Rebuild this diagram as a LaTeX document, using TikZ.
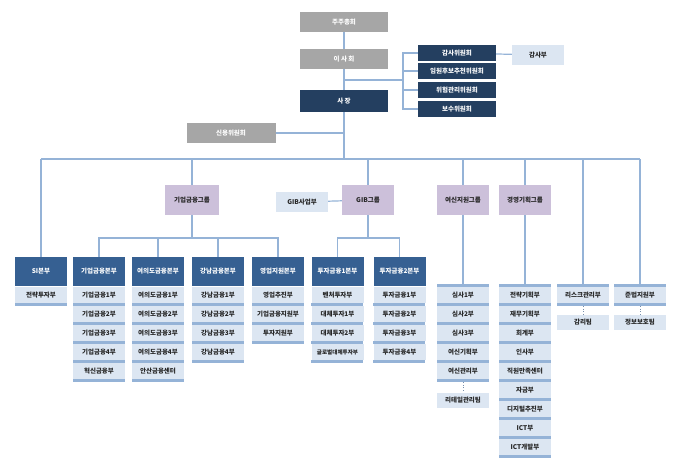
\documentclass[tikz,border=0pt]{standalone}
\usepackage{fontspec}
\usetikzlibrary{calc}
\setmainfont{Noto Sans CJK KR}
\definecolor{gr}{HTML}{A6A6A6}
\definecolor{navy}{HTML}{243F60}
\definecolor{hb}{HTML}{366092}
\definecolor{lb}{HTML}{DCE6F2}
\definecolor{st}{HTML}{95B3D7}
\definecolor{lav}{HTML}{CCC0DA}
\definecolor{tx}{HTML}{262626}
\begin{document}
\begin{tikzpicture}[x=1pt,y=-1pt,
  base/.style={inner sep=0pt,font=\fontsize{6.5}{7}\selectfont\bfseries,minimum width=52pt,minimum height=16pt},
  grey/.style={base,fill=gr,text=white,minimum width=88pt,minimum height=20pt},
  dk/.style={base,fill=navy,text=white},
  hd/.style={base,fill=hb,text=white,minimum height=29pt},
  grp/.style={base,fill=lav,text=tx,minimum height=30pt},
  lt/.style={base,fill=lb,text=tx},
  sub/.style={base,fill=lb,text=tx},
  stripe/.style={fill=st},
  ln/.style={draw=st,line width=1.2pt},
  dt/.style={draw=st!80!black,line width=0.6pt,dotted}]
\useasboundingbox (0,0) rectangle (696,471);
% top
\node[grey] (ju) at (344,22) {주주총회};
\node[grey] (isa) at (344,59) {이 사 회};
\node[dk,minimum width=88pt,minimum height=22pt] (sj) at (344,101) {사 장};
\node[dk,minimum width=78pt] (c1) at (457,53) {감사위원회};
\node[dk,minimum width=78pt] (c2) at (457,71) {임원후보추천위원회};
\node[dk,minimum width=78pt] (c3) at (457,90) {위험관리위원회};
\node[dk,minimum width=78pt] (c4) at (457,109) {보수위원회};
\node[lt,minimum height=20pt] (gb) at (538,55) {감사부};
\node[grey,minimum width=89pt] (sy) at (231,133) {신용위원회};
\coordinate (br) at (403,80);
\draw[ln] (ju) -- (isa); \draw[ln] (isa) -- (sj);
\draw[ln] (sj.north |- br) -- (br);
\draw[ln] (c1.west) -| (br) |- (c4.west);
\draw[ln] (br |- c2) -- (c2.west); \draw[ln] (br |- c3) -- (c3.west);
\draw[ln] (c1) -- (gb);
\coordinate (m) at (344,159);
\draw[ln] (sj) -- (m);
\draw[ln] (sy.east) -- (sy.east -| m);
% groups
\node[grp,minimum width=54pt] (g1) at (192,200) {기업금융그룹};
\node[grp] (g2) at (368,200) {GIB그룹};
\node[lt,minimum height=20pt] (g2s) at (302,202) {GIB사업부};
\node[grp] (g3) at (463,200) {여신지원그룹};
\node[grp] (g4) at (525,200) {경영기획그룹};
\draw[ln] (g2s) -- (g2);
% headers
\node[hd] (h0) at (41,271.5) {SI본부};
\node[hd] (h1) at (99,271.5) {기업금융본부};
\node[hd] (h2) at (158,271.5) {여의도금융본부};
\node[hd] (h3) at (218,271.5) {강남금융본부};
\node[hd] (h4) at (278,271.5) {영업지원본부};
\node[hd] (h5) at (337.5,271.5) {투자금융1본부};
\node[hd] (h6) at (399.5,271.5) {투자금융2본부};
\newcommand\mycol[3]{%
\foreach \t [count=\i from 0] in {#3}{%
 \node[sub] (#1-\i) at (#2,295+19*\i) {\t};
 \fill[stripe] (#1-\i.south west) rectangle ++(52,3);}}
\mycol{a0}{41}{전략투자부}
\mycol{a1}{99}{기업금융1부,기업금융2부,기업금융3부,기업금융4부,혁신금융부}
\mycol{a2}{158}{여의도금융1부,여의도금융2부,여의도금융3부,여의도금융4부,안산금융센터}
\mycol{a3}{218}{강남금융1부,강남금융2부,강남금융3부,강남금융4부}
\mycol{a4}{278}{영업추진부,기업금융지원부,투자지원부}
\mycol{a5}{337.5}{벤처투자부,대체투자1부,대체투자2부,{\fontsize{5.6}{6}\selectfont 글로벌대체투자부}}
\mycol{a6}{399.5}{투자금융1부,투자금융2부,투자금융3부,투자금융4부}
\mycol{a7}{463}{심사1부,심사2부,심사3부,여신기획부,여신관리부}
\mycol{a8}{525}{전략기획부,재무기획부,회계부,인사부,직원만족센터,자금부,디지털추진부,ICT부,ICT개발부}
\mycol{a9}{583}{리스크관리부}
\mycol{a10}{640}{준법지원부}
\foreach \n in {a7,a8,a9,a10} \fill[stripe] (\n-0.north west) rectangle ++(52,-3);
\node[sub,minimum height=15pt] (rt) at (463,400) {리테일관리팀};
\node[sub,minimum height=15pt] (gt) at (583,322) {감리팀};
\node[sub,minimum height=15pt] (jb) at (640,322) {정보보호팀};
\draw[dt] ($(a7-4.south)+(0,3)$) -- (rt.north);
\draw[dt] ($(a9-0.south)+(0,3)$) -- (gt.north);
\draw[dt] ($(a10-0.south)+(0,3)$) -- (jb.north);
% main bus
\coordinate (L) at (41,159); \coordinate (R) at (640,159);
\draw[ln] (L) -- (R);
\draw[ln] (L) -- (h0.north);
\draw[ln] (g1.north |- m) -- (g1.north);
\draw[ln] (g2.north |- m) -- (g2.north);
\draw[ln] (g3.north |- m) -- (g3.north);
\draw[ln] (g4.north |- m) -- (g4.north);
\draw[ln] (a9-0.north |- m) -- ($(a9-0.north)+(0,-3)$);
\draw[ln] (a10-0.north |- m) -- ($(a10-0.north)+(0,-3)$);
\draw[ln] (g3.south) -- ($(a7-0.north)+(0,-3)$);
\draw[ln] (g4.south) -- ($(a8-0.north)+(0,-3)$);
% sub buses
\coordinate (b1) at (192,238); \coordinate (b2) at (368,238);
\draw[ln] (g1.south) -- (b1);
\draw[ln] (h1.north) |- (b1 -| h4.north) -- (h4.north);
\draw[ln] (b1 -| h2.north) -- (h2.north); \draw[ln] (b1 -| h3.north) -- (h3.north);
\draw[ln] (g2.south) -- (b2);
\draw[ln] (h5.north) |- (b2 -| h6.north) -- (h6.north);
\end{tikzpicture}
\end{document}
